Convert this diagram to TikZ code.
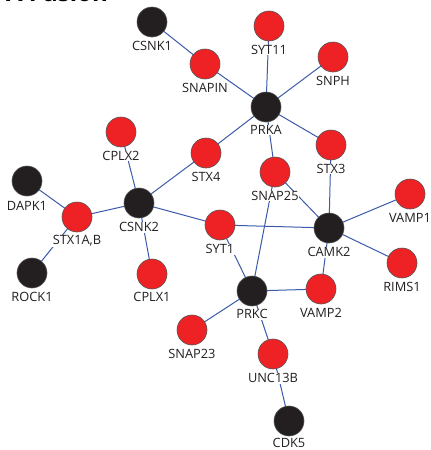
\documentclass[tikz,border=0pt]{standalone}
\usepackage{fontspec}
\setmainfont{Open Sans}
\usetikzlibrary{backgrounds}
\definecolor{nred}{HTML}{EE2225}
\definecolor{nblack}{HTML}{231F20}
\definecolor{nedge}{HTML}{3C5AAA}
\definecolor{nborder}{HTML}{555555}
\begin{document}
\begin{tikzpicture}[x=1pt,y=-1pt,
  gene/.style={circle,minimum size=30pt,inner sep=0pt,draw=nborder,line width=0.6pt},
  rednode/.style={gene,fill=nred},
  blacknode/.style={gene,fill=nblack},
  lab/.style={font=\fontsize{12.8}{13}\selectfont,text=nblack,fill=white,inner sep=0.8pt},
  edge/.style={draw=nedge,line width=1pt}]
\useasboundingbox (0,0) rectangle (431,450);
\begin{scope}
\clip (0,0) rectangle (431,450);
\node[anchor=base west,font=\bfseries\fontsize{24}{24}\selectfont,inner sep=0pt] (title) at (6,1.8) {A Fusion};
\end{scope}
% nodes
\node[blacknode] (CSNK1) at (152,22) {};
\node[rednode] (SNAPIN) at (205,64) {};
\node[rednode] (SYT11) at (269,26) {};
\node[rednode] (SNPH) at (333,57) {};
\node[blacknode] (PRKA) at (266,107) {};
\node[rednode] (STX3) at (331,145) {};
\node[rednode] (SNAP25) at (275,172) {};
\node[rednode] (STX4) at (206,153) {};
\node[rednode] (CPLX2) at (121,132) {};
\node[blacknode] (DAPK1) at (27,181) {};
\node[rednode] (STX1AB) at (77,217) {};
\node[blacknode] (CSNK2) at (139,203) {};
\node[blacknode] (ROCK1) at (32,273) {};
\node[rednode] (CPLX1) at (152,274) {};
\node[rednode] (SYT1) at (220,225) {};
\node[blacknode] (CAMK2) at (329,228) {};
\node[rednode] (VAMP1) at (410,194) {};
\node[rednode] (RIMS1) at (402,263) {};
\node[blacknode] (PRKC) at (252,291) {};
\node[rednode] (VAMP2) at (321,289) {};
\node[rednode] (SNAP23) at (192,330) {};
\node[rednode] (UNC13B) at (273,354) {};
\node[blacknode] (CDK5) at (289,421) {};
% edges
\begin{scope}[on background layer]
\foreach \a/\b in {CSNK1/SNAPIN, SNAPIN/PRKA, SYT11/PRKA, SNPH/PRKA, PRKA/STX4, PRKA/STX3, PRKA/SNAP25,
  STX4/CSNK2, CPLX2/CSNK2, CSNK2/STX1AB, DAPK1/STX1AB, ROCK1/STX1AB, CSNK2/CPLX1, CSNK2/SYT1,
  SYT1/CAMK2, SNAP25/CAMK2, STX3/CAMK2, VAMP1/CAMK2, RIMS1/CAMK2, CAMK2/VAMP2,
  SYT1/PRKC, SNAP25/PRKC, PRKC/VAMP2, PRKC/SNAP23, PRKC/UNC13B, UNC13B/CDK5}
  {\draw[edge] (\a.center) -- (\b.center);}
\end{scope}
% labels
\foreach \n/\t/\x/\y in {CSNK1/CSNK1/152/46, SNAPIN/SNAPIN/205/88, SYT11/SYT11/269/50, SNPH/SNPH/333/81, PRKA/PRKA/266/130, STX3/STX3/331/169, SNAP25/SNAP25/275/196, STX4/STX4/206/177, CPLX2/CPLX2/121/156, DAPK1/DAPK1/27/206, STX1AB/{STX1A,B}/77/241, CSNK2/CSNK2/139/227, ROCK1/ROCK1/32/297, CPLX1/CPLX1/152/297, SYT1/SYT1/220/249, CAMK2/CAMK2/329/252, VAMP1/VAMP1/410/218, RIMS1/RIMS1/402/287, PRKC/PRKC/252/314, VAMP2/VAMP2/321/313, SNAP23/SNAP23/192/354, UNC13B/UNC13B/273/378, CDK5/CDK5/289/443}
  {\node[lab] (l\n) at (\x,\y) {\t};}
\end{tikzpicture}
\end{document}
